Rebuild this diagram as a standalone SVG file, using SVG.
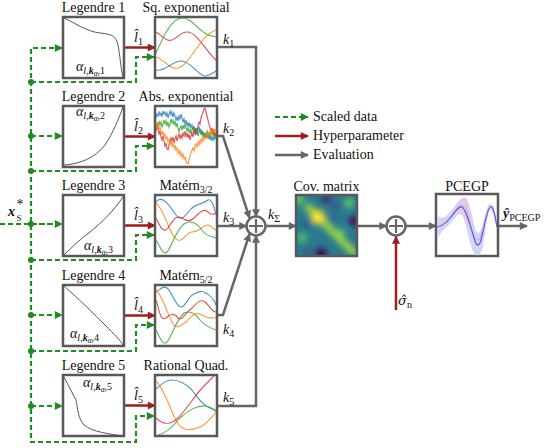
<svg xmlns="http://www.w3.org/2000/svg" width="550" height="448" viewBox="0 0 550 448" font-family="'Liberation Serif', 'DejaVu Serif', 'Times New Roman', serif">
<defs>
<style>
text{font-family:'Liberation Serif','DejaVu Serif','Times New Roman',serif;font-size:14px;fill:#111}
.t{text-anchor:middle}
.box{fill:#fff;stroke:#595959;stroke-width:2.5}
.gray{fill:none;stroke:#666;stroke-width:2.5;marker-end:url(#ag)}
.red{fill:none;stroke:#a11c1c;stroke-width:2.5;marker-end:url(#ar)}
.grn{fill:none;stroke:#1e8c1e;stroke-width:2.2;stroke-dasharray:5 3}
.grna{marker-end:url(#agr)}
.dot{fill:#1e8c1e}
.leg{fill:none;stroke:#444;stroke-width:0.9}
.c{fill:none;stroke-width:1.1;opacity:0.8}
.b{stroke:#1f77b4}.o{stroke:#ff7f0e}.g{stroke:#2ca02c}.r{stroke:#d62728}
.i{font-style:italic}
.s{font-size:10px}
</style>
<marker id="ag" viewBox="0 0 10 10" refX="9" refY="5" markerWidth="9" markerHeight="8" markerUnits="userSpaceOnUse" orient="auto"><path d="M0,0 L10,5 L0,10 z" fill="#666"/></marker>
<marker id="ar" viewBox="0 0 10 10" refX="9" refY="5" markerWidth="9" markerHeight="8" markerUnits="userSpaceOnUse" orient="auto"><path d="M0,0 L10,5 L0,10 z" fill="#a11c1c"/></marker>
<marker id="agr" viewBox="0 0 10 10" refX="9" refY="5" markerWidth="9" markerHeight="8" markerUnits="userSpaceOnUse" orient="auto"><path d="M0,0 L10,5 L0,10 z" fill="#1e8c1e"/></marker>
<clipPath id="cm"><rect x="296" y="195" width="61" height="61"/></clipPath>
<clipPath id="cp"><rect x="436" y="194" width="62" height="62"/></clipPath>
<filter id="bl" x="-20%" y="-20%" width="140%" height="140%"><feGaussianBlur stdDeviation="3"/></filter>
</defs>
<rect width="550" height="448" fill="#fff"/>

<g id="connectors">
  <path class="grn" d="M0,224 H62"/>
  <path class="grn" d="M62,48 H31 V442 H136 V416 H154"/>
  <path class="grn grna" d="M56,48 H62"/>
  <path class="grn grna" d="M31,136 H62"/>
  <path class="grn grna" d="M31,224 H62"/>
  <path class="grn grna" d="M31,315 H62"/>
  <path class="grn grna" d="M31,406 H62"/>
  <path class="grn grna" d="M31,82 H136 V57 H154"/>
  <path class="grn grna" d="M31,171 H136 V146 H154"/>
  <path class="grn grna" d="M31,260 H136 V235 H154"/>
  <path class="grn grna" d="M31,351 H136 V325 H154"/>
  <path class="grn grna" d="M148,416 H154"/>
  <circle class="dot" cx="31" cy="82" r="3"/>
  <circle class="dot" cx="31" cy="136" r="3"/>
  <circle class="dot" cx="31" cy="171" r="3"/>
  <circle class="dot" cx="31" cy="224" r="3"/>
  <circle class="dot" cx="31" cy="260" r="3"/>
  <circle class="dot" cx="31" cy="315" r="3"/>
  <circle class="dot" cx="31" cy="351" r="3"/>
  <circle class="dot" cx="31" cy="406" r="3"/>
  <path class="red" d="M124,47.5 H155"/>
  <path class="red" d="M124,136.5 H155"/>
  <path class="red" d="M124,225.5 H155"/>
  <path class="red" d="M124,315.5 H155"/>
  <path class="red" d="M124,405.5 H155"/>
  <path class="red" d="M396,310 V236.5"/>
  <path class="gray" d="M217,47 H256 V216.5"/>
  <path class="gray" d="M217,136 H223 L249.5,218"/>
  <path class="gray" d="M217,226 H246.5"/>
  <path class="gray" d="M217,315 H223 L249.5,234"/>
  <path class="gray" d="M217,406 H256 V235.5"/>
  <path class="gray" d="M265.5,226 H296"/>
  <path class="gray" d="M357,226 H386.5"/>
  <path class="gray" d="M405.5,226 H436"/>
  <path class="gray" d="M498,226 H527"/>
</g>

<g id="legend">
  <path class="grn grna" d="M275,117 H308"/>
  <text x="313" y="121">Scaled data</text>
  <path class="red" d="M275,136 H308"/>
  <text x="313" y="140">Hyperparameter</text>
  <path class="gray" d="M275,155 H308"/>
  <text x="313" y="159">Evaluation</text>
</g>

<g id="input">
  <text x="8" y="216"><tspan class="i" font-weight="bold">x</tspan><tspan font-size="9px" x="16.5" y="221">S</tspan></text>
  <text x="16.5" y="209" font-size="9px">*</text>
</g>

<g id="legendre1">
  <text class="t" x="93.5" y="12">Legendre 1</text>
  <rect class="box" x="63" y="17" width="61" height="61"/>
  <path class="leg" d="M64,18 C75,23 88,32 100,33 C112,34 116,36 118,45 C120,55 121,70 123,77"/>
  <text x="76" y="71" class="i">α<tspan class="s" dy="3">l,<tspan font-weight="bold">k</tspan><tspan font-size="7.5px" dy="2">α</tspan><tspan dy="-2" font-style="normal">,1</tspan></tspan></text>
</g>
<g id="legendre2">
  <text class="t" x="93.5" y="101">Legendre 2</text>
  <rect class="box" x="63" y="106" width="61" height="61"/>
  <path class="leg" d="M64,165 C80,164 95,158 105,145 C113,133 119,118 123,107"/>
  <text x="76" y="116" class="i">α<tspan class="s" dy="3">l,<tspan font-weight="bold">k</tspan><tspan font-size="7.5px" dy="2">α</tspan><tspan dy="-2" font-style="normal">,2</tspan></tspan></text>
</g>
<g id="legendre3">
  <text class="t" x="93.5" y="190">Legendre 3</text>
  <rect class="box" x="63" y="195" width="61" height="61"/>
  <path class="leg" d="M64,255 C74,245 82,238 90,232 C100,224 112,213 123,197"/>
  <text x="84" y="250" class="i">α<tspan class="s" dy="3">l,<tspan font-weight="bold">k</tspan><tspan font-size="7.5px" dy="2">α</tspan><tspan dy="-2" font-style="normal">,3</tspan></tspan></text>
</g>
<g id="legendre4">
  <text class="t" x="93.5" y="280">Legendre 4</text>
  <rect class="box" x="63" y="285" width="61" height="61"/>
  <path class="leg" d="M64,286 C80,300 95,315 105,325 C115,335 120,340 123,345"/>
  <text x="70" y="338" class="i">α<tspan class="s" dy="3">l,<tspan font-weight="bold">k</tspan><tspan font-size="7.5px" dy="2">α</tspan><tspan dy="-2" font-style="normal">,4</tspan></tspan></text>
</g>
<g id="legendre5">
  <text class="t" x="93.5" y="370">Legendre 5</text>
  <rect class="box" x="63" y="375" width="61" height="61"/>
  <path class="leg" d="M64,377 C68,385 72,392 76,400 C78,410 78,418 84,425 C92,432 110,434 123,436"/>
  <text x="83" y="387" class="i">α<tspan class="s" dy="3">l,<tspan font-weight="bold">k</tspan><tspan font-size="7.5px" dy="2">α</tspan><tspan dy="-2" font-style="normal">,5</tspan></tspan></text>
</g>

<g id="lhat">
  <text x="134" y="42" class="i">l&#770;<tspan class="s" dy="3" font-style="normal">1</tspan></text>
  <text x="134" y="131" class="i">l&#770;<tspan class="s" dy="3" font-style="normal">2</tspan></text>
  <text x="134" y="220" class="i">l&#770;<tspan class="s" dy="3" font-style="normal">3</tspan></text>
  <text x="134" y="310" class="i">l&#770;<tspan class="s" dy="3" font-style="normal">4</tspan></text>
  <text x="134" y="400" class="i">l&#770;<tspan class="s" dy="3" font-style="normal">5</tspan></text>
</g>

<g id="kernel1">
  <text class="t" x="186" y="12">Sq. exponential</text>
  <rect class="box" x="155" y="17" width="62" height="61"/>
  <path class="c g" d="M156,53 C164,35 172,18 182,18 C194,18 200,36 216,37"/>
  <path class="c r" d="M156,32 C163,36 166,42 172,40 C178,38 180,32 187,32 C197,32 205,50 216,60"/>
  <path class="c o" d="M156,57 C165,60 170,70 178,68 C190,65 200,35 216,30"/>
  <path class="c b" d="M156,70 C165,72 172,61 181,61 C192,61 198,77 206,76 C211,75 214,72 216,71"/>
  <text x="223" y="44" class="i">k<tspan class="s" dy="3" font-style="normal">1</tspan></text>
</g>
<g id="kernel2">
  <text class="t" x="186" y="101">Abs. exponential</text>
  <rect class="box" x="155" y="106" width="62" height="61"/>
  <polyline class="c b" points="156,118 157,114 158,116 159,112 160,115 161,113 162,117 163,111 164,114 165,112 166,116 167,113 168,118 169,114 170,111 171,115 172,112 173,117 174,113 175,116 176,120 177,117 178,121 179,116 180,119 181,114 182,118 183,122 184,119 185,124 186,120 187,126 188,122 189,127 190,123 191,128 192,125 193,130 194,126 195,131 196,128 197,134 198,130 199,127 200,132 201,129 202,135 203,131 204,137 205,133 206,138 207,134 208,139 209,135 210,140 211,136 212,141 213,137 214,140 215,136 216,139"/>
  <polyline class="c g" points="156,127 157,123 158,126 159,121 160,125 161,122 162,127 163,124 164,120 165,124 166,121 167,126 168,122 169,127 170,124 171,119 172,123 173,120 174,125 175,121 176,127 177,123 178,128 179,132 180,128 181,126 182,130 183,125 184,129 185,124 186,128 187,131 188,127 189,133 190,129 191,134 192,130 193,128 194,133 195,129 196,135 197,131 198,136 199,132 200,130 201,135 202,131 203,137 204,133 205,138 206,134 207,131 208,136 209,132 210,138 211,134 212,131 213,136 214,133 215,137 216,134"/>
  <polyline class="c r" points="156,131 157,127 158,129 159,134 160,131 161,137 162,140 163,136 164,141 165,146 166,143 167,149 168,150 169,145 170,142 171,138 172,141 173,137 174,143 175,139 176,136 177,141 178,137 179,134 180,139 181,135 182,138 183,133 184,136 185,131 186,137 187,133 188,138 189,134 190,140 191,136 192,133 193,137 194,131 195,134 196,129 197,131 198,126 199,122 200,124 201,118 202,115 203,112 204,109 205,108 206,112 207,116 208,120 209,124 210,127 211,131 212,128 213,134 214,130 215,135 216,133"/>
  <polyline class="c o" points="156,123 157,127 158,125 159,130 160,127 161,132 162,134 163,131 164,137 165,134 166,139 167,137 168,142 169,139 170,144 171,141 172,146 173,143 174,148 175,145 176,151 177,148 178,153 179,150 180,155 181,152 182,157 183,154 184,159 185,157 186,161 187,163 188,164 189,160 190,156 191,153 192,150 193,148 194,151 195,146 196,144 197,147 198,142 199,145 200,140 201,143 202,138 203,141 204,136 205,139 206,134 207,137 208,133 209,136 210,131 211,134 212,130 213,133 214,129 215,132 216,129"/>
  <text x="223" y="133" class="i">k<tspan class="s" dy="3" font-style="normal">2</tspan></text>
</g>
<g id="kernel3">
  <text class="t" x="186" y="190">Matérn<tspan class="s" dy="3">3/2</tspan></text>
  <rect class="box" x="155" y="195" width="62" height="61"/>
  <path class="c b" d="M156,202 C162,194 170,206 176,215 C180,221 184,218 190,210 C196,203 204,204 208,200 C212,198 214,208 216,214"/>
  <path class="c o" d="M156,203 C165,210 170,238 178,240 C184,242 186,232 192,232 C200,232 204,224 208,225 C212,226 214,230 216,230"/>
  <path class="c r" d="M156,218 C160,226 163,234 168,228 C172,222 176,214 182,218 C186,221 190,222 194,218 C200,212 204,208 208,212 C212,216 214,214 216,213"/>
  <path class="c g" d="M156,240 C160,246 163,256 167,252 C172,246 176,230 184,224 C190,220 196,222 202,230 C206,236 210,236 216,238"/>
  <text x="223" y="222" class="i">k<tspan class="s" dy="3" font-style="normal">3</tspan></text>
</g>
<g id="kernel4">
  <text class="t" x="186" y="280">Matérn<tspan class="s" dy="3">5/2</tspan></text>
  <rect class="box" x="155" y="285" width="62" height="61"/>
  <path class="c b" d="M156,292 C160,290 163,285 167,288 C172,292 176,307 181,307 C186,307 188,296 194,294 C198,292 202,290 206,293 C210,296 214,298 216,305"/>
  <path class="c o" d="M156,290 C162,295 166,310 172,322 C176,330 180,326 186,322 C190,318 194,312 200,314 C206,318 210,318 216,318"/>
  <path class="c r" d="M156,300 C159,308 160,322 166,318 C170,314 174,312 178,318 C182,322 186,312 192,308 C196,304 200,298 205,302 C210,306 212,312 216,312"/>
  <path class="c g" d="M156,330 C160,338 163,346 167,342 C172,336 176,320 184,313 C190,310 196,314 200,320 C205,326 210,328 216,330"/>
  <text x="223" y="334" class="i">k<tspan class="s" dy="3" font-style="normal">4</tspan></text>
</g>
<g id="kernel5">
  <text class="t" x="186" y="370">Rational Quad.</text>
  <rect class="box" x="155" y="375" width="62" height="61"/>
  <path class="c b" d="M156,389 C162,384 166,380 172,380 C180,380 186,384 192,390 C198,398 204,408 216,410"/>
  <path class="c o" d="M156,381 C164,388 170,410 178,424 C184,432 194,430 202,426 C208,422 212,416 216,413"/>
  <path class="c r" d="M156,418 C162,424 170,426 178,418 C186,410 196,394 204,386 C208,382 212,378 214,376"/>
  <path class="c g" d="M156,436 C164,434 172,428 180,418 C188,410 198,405 206,406 C212,407 214,410 216,412"/>
  <text x="223" y="402" class="i">k<tspan class="s" dy="3" font-style="normal">5</tspan></text>
</g>

<g id="sum1">
  <circle cx="256" cy="226" r="9.5" fill="#fff" stroke="#666" stroke-width="2.5"/>
  <path d="M249,226 H263 M256,219 V233" stroke="#666" stroke-width="2.2"/>
  <text x="268" y="219" class="i">k<tspan class="s" dy="3" font-style="normal">Σ</tspan></text>
</g>

<g id="covmatrix">
  <text class="t" x="326.5" y="191">Cov. matrix</text>
  <g clip-path="url(#cm)">
    <rect x="296" y="195" width="61" height="61" fill="#2a7a8e"/>
    <g filter="url(#bl)">
      <circle cx="298" cy="199" r="6" fill="#5ec962"/>
      <circle cx="326" cy="199" r="5" fill="#3b2a72"/>
      <circle cx="336" cy="206" r="4" fill="#3b528b"/>
      <circle cx="349" cy="203" r="5" fill="#5ec962"/>
      <circle cx="354" cy="221" r="5" fill="#440154"/>
      <circle cx="321" cy="254" r="6" fill="#440154"/>
      <circle cx="308" cy="224" r="5" fill="#2f5a8b"/>
      <circle cx="333" cy="220" r="4" fill="#2f5a8b"/>
      <circle cx="302" cy="238" r="5" fill="#4ac16d"/>
      <circle cx="341" cy="233" r="4" fill="#5ec962"/>
      <circle cx="308" cy="252" r="4" fill="#3b528b"/>
      <circle cx="350" cy="245" r="4" fill="#2f5a8b"/>
      <path d="M306,205 L356,255" stroke="#9fd83f" stroke-width="7"/>
      <circle cx="318" cy="217" r="7" fill="#fde725"/>
    </g>
  </g>
  <rect x="296" y="195" width="61" height="61" fill="none" stroke="#595959" stroke-width="2.5"/>
</g>

<g id="sum2">
  <circle cx="396" cy="226" r="9.5" fill="#fff" stroke="#666" stroke-width="2.5"/>
  <path d="M389,226 H403 M396,219 V233" stroke="#666" stroke-width="2.2"/>
  <text x="398" y="305" class="i" style="font-family:'DejaVu Serif',serif;font-size:13px">σ&#770;<tspan class="s" dy="3" font-style="normal" style="font-family:'Liberation Serif',serif">n</tspan></text>
</g>

<g id="pcegp">
  <text class="t" x="467" y="191">PCEGP</text>
  <rect class="box" x="436" y="194" width="62" height="62"/>
  <g clip-path="url(#cp)">
    <path d="M437,215 C442,222 448,215 455,206 C459,200 462,197 466,198 C470,204 472,216 475,228 C477,235 479,234 482,228 C485,215 487,205 490,204 C494,204 495,214 497,224 L497,230 C495,222 493,210 490,210 C487,212 485,240 482,250 C479,258 475,258 471,246 C468,236 466,222 462,215 C458,212 455,218 450,224 C446,228 442,230 437,240 Z" fill="#c6c6f4" opacity="0.75"/>
    <path d="M455,210 C459,200 462,197 466,198 C469,204 470,214 472,222 L470,230 C466,222 464,215 461,213 C458,212 456,214 455,216 Z" fill="#ecc6dc" opacity="0.7"/>
    <path d="M437,227 C445,226 450,218 455,212 C458,208 460,206 462,207 C466,209 470,225 474,238 C476,245 478,247 480,243 C483,235 486,212 490,207 C493,204 495,215 497,227" fill="none" stroke="#5858e0" stroke-width="1.2"/>
    <path d="M437,227 C445,227 452,214 458,207 C462,203 466,206 469,218 C472,232 476,242 479,240 C483,232 486,210 490,207" fill="none" stroke="#a090d0" stroke-width="0.8" opacity="0.7"/>
  </g>
  <text x="503" y="218"><tspan class="i" font-weight="bold">y&#770;</tspan><tspan class="s" dy="3">PCEGP</tspan></text>
</g>
</svg>
